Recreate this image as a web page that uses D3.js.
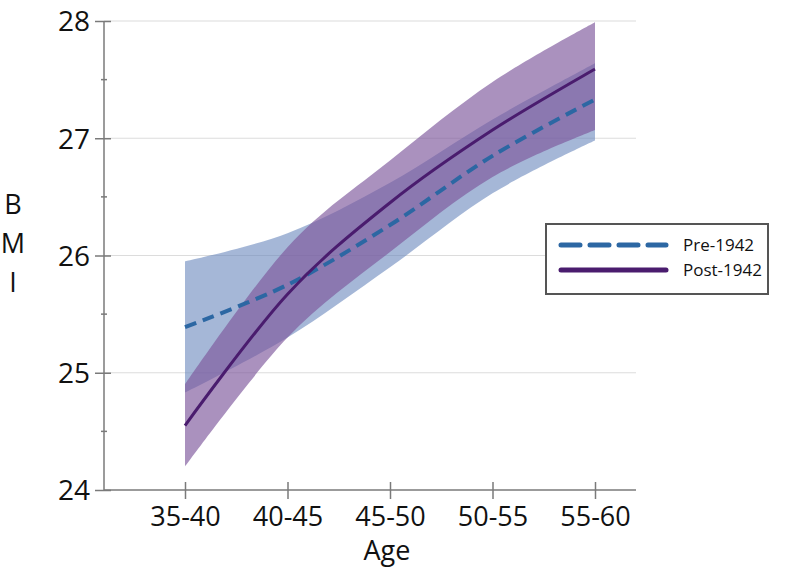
<!DOCTYPE html>
<html>
<head>
<meta charset="utf-8">
<script src="https://cdn.jsdelivr.net/npm/d3@7"></script>
<style>
  html, body { margin: 0; padding: 0; background: #fff; }
  svg { display: block; }
  text { font-family: "Open Sans", "Noto Sans", sans-serif; fill: #111; }
</style>
</head>
<body>
<svg id="chart" width="805" height="575"></svg>
<script>
// ---- data ----
const categories = ["35-40", "40-45", "45-50", "50-55", "55-60"];
const preMean  = [25.39, 25.75, 26.26, 26.85, 27.33];
const preLow   = [24.83, 25.30, 25.90, 26.53, 26.98];
const preHigh  = [25.95, 26.19, 26.62, 27.16, 27.64];
const postMean = [24.55, 25.67, 26.45, 27.07, 27.59];
const postLow  = [24.20, 25.30, 26.03, 26.67, 27.07];
const postHigh = [24.90, 26.07, 26.81, 27.48, 27.99];
const yTicks = [24, 25, 26, 27, 28];
const yMinorTicks = [24.5, 25.5, 26.5, 27.5];
const seriesNames = ["Pre-1942", "Post-1942"];

// ---- layout ----
const svg = d3.select("#chart");
const axisLeftX = 104, axisRightX = 636;
const x = d3.scalePoint().domain(categories).range([185, 595]);
const y = d3.scaleLinear().domain([24, 28]).range([490, 21]);

const colPreLine = "#2c67a3";
const colPostLine = "#4a1c6e";
const colPreBand = "#6987bc";
const colPostBand = "#7c569b";

// gridlines
svg.append("g").selectAll("line").data(yTicks.filter(d => d > 24)).join("line")
  .attr("x1", axisLeftX).attr("x2", axisRightX)
  .attr("y1", d => y(d)).attr("y2", d => y(d))
  .attr("stroke", "#dcdcdc").attr("stroke-width", 1.2);

// bands
const curve = d3.curveCatmullRom.alpha(0);
const band = (lo, hi) => d3.area()
  .x((d, i) => x(categories[i]))
  .y0((d, i) => y(lo[i]))
  .y1((d, i) => y(hi[i]))
  .curve(curve)(categories);

svg.append("path").attr("d", band(preLow, preHigh))
  .attr("fill", colPreBand).attr("fill-opacity", 0.6);
svg.append("path").attr("d", band(postLow, postHigh))
  .attr("fill", colPostBand).attr("fill-opacity", 0.65);

// lines
const lineGen = vals => d3.line()
  .x((d, i) => x(categories[i]))
  .y((d, i) => y(vals[i]))
  .curve(curve)(categories);

svg.append("path").attr("d", lineGen(preMean))
  .attr("fill", "none").attr("stroke", colPreLine)
  .attr("stroke-width", 4).attr("stroke-dasharray", "12,7");
svg.append("path").attr("d", lineGen(postMean))
  .attr("fill", "none").attr("stroke", colPostLine)
  .attr("stroke-width", 3);

// axes
const axisCol = "#7a7a7a";
svg.append("line").attr("x1", axisLeftX).attr("x2", axisLeftX)
  .attr("y1", y(28)).attr("y2", y(24)).attr("stroke", axisCol).attr("stroke-width", 1.5);
svg.append("line").attr("x1", axisLeftX).attr("x2", axisRightX)
  .attr("y1", y(24)).attr("y2", y(24)).attr("stroke", axisCol).attr("stroke-width", 1.5);

const yAx = svg.append("g").attr("transform", `translate(${axisLeftX},0)`)
  .call(d3.axisLeft(y).tickValues(yTicks).tickSize(9).tickPadding(5).tickFormat(d3.format("d")));
yAx.select(".domain").remove();
yAx.selectAll(".tick line").attr("x2", 0).attr("x1", -9).attr("stroke", axisCol).attr("stroke-width", 1.5)
  .clone().attr("x1", 0).attr("x2", 7);
yAx.selectAll(".tick text").style("font-size", "28px").attr("fill", "#111").attr("dy", "0.35em");

svg.append("g").selectAll("line").data(yMinorTicks).join("line")
  .attr("x1", axisLeftX - 3).attr("x2", axisLeftX + 3)
  .attr("y1", d => y(d)).attr("y2", d => y(d))
  .attr("stroke", axisCol).attr("stroke-width", 1.5);

const xAx = svg.append("g").attr("transform", `translate(0,${y(24)})`)
  .call(d3.axisBottom(x).tickSize(9).tickPadding(8));
xAx.select(".domain").remove();
xAx.selectAll(".tick line").attr("y1", -8).attr("y2", 9).attr("stroke", axisCol).attr("stroke-width", 1.5);
xAx.selectAll(".tick text").style("font-size", "27px").attr("fill", "#111");

// axis titles
svg.append("text").attr("x", 387).attr("y", 560).attr("text-anchor", "middle")
  .style("font-size", "27px").text("Age");
const bmi = ["B", "M", "I"];
svg.append("g").selectAll("text").data(bmi).join("text")
  .attr("x", 13).attr("y", (d, i) => 214 + i * 39)
  .attr("text-anchor", "middle").style("font-size", "27px").text(d => d);

// legend
const lg = svg.append("g");
lg.append("rect").attr("x", 546).attr("y", 224).attr("width", 222).attr("height", 70)
  .attr("fill", "#fff").attr("stroke", "#555").attr("stroke-width", 2);
lg.append("line").attr("x1", 561).attr("x2", 666).attr("y1", 245).attr("y2", 245)
  .attr("stroke", colPreLine).attr("stroke-width", 5).attr("stroke-dasharray", "19,10").attr("stroke-linecap", "round");
lg.append("line").attr("x1", 561).attr("x2", 666).attr("y1", 270).attr("y2", 270)
  .attr("stroke", colPostLine).attr("stroke-width", 5).attr("stroke-linecap", "round");
lg.selectAll("text.lt").data(seriesNames).join("text").attr("class", "lt")
  .attr("x", 683).attr("y", (d, i) => 251 + i * 25)
  .style("font-size", "17px").attr("fill", "#222").text(d => d);
</script>
</body>
</html>
